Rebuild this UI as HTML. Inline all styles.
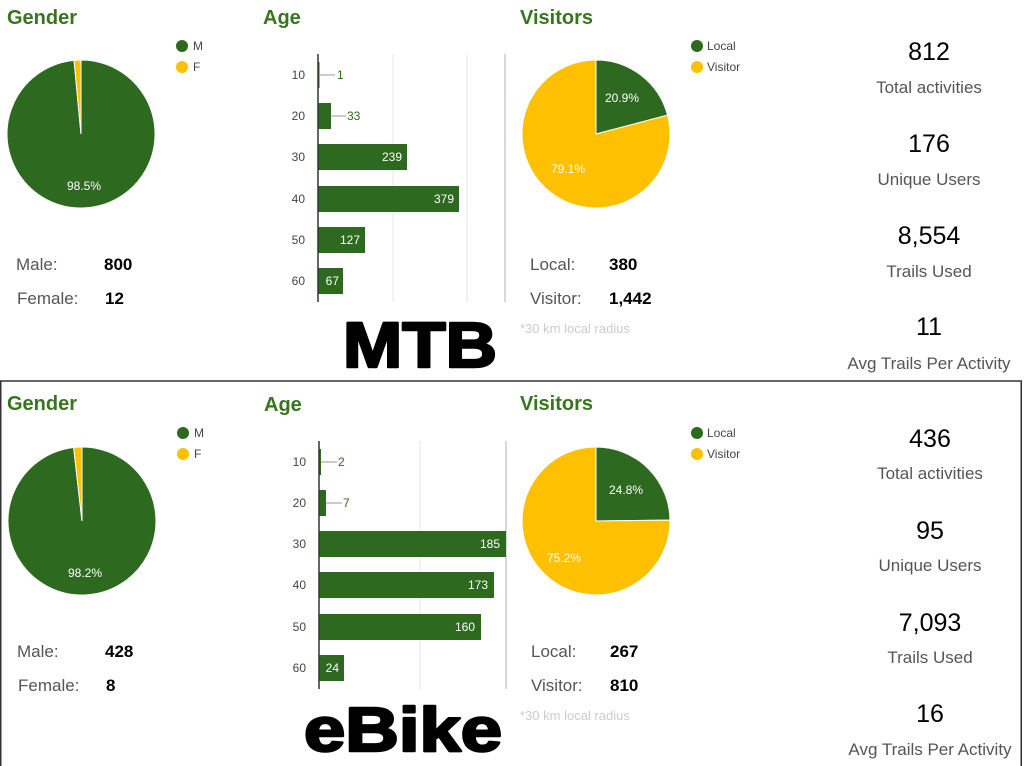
<!DOCTYPE html>
<html><head><meta charset="utf-8"><style>
html,body{margin:0;padding:0;background:#fff;width:1024px;height:766px;overflow:hidden}
svg{display:block}
text{font-family:"Liberation Sans",Arial,sans-serif}
.t{font-size:20px;font-weight:bold;fill:#38761d}
.lg{font-size:12px;fill:#444}
.ax{font-size:12px;fill:#444}
.bv{font-size:12px;fill:#fff}
.ov{font-size:12px;fill:#2d6a1f}
.pl{font-size:12px;fill:#fff}
.k{font-size:17px;fill:#555}
.v{font-size:17px;font-weight:bold;fill:#000}
.big{font-size:25px;fill:#000}
.lab{font-size:17px;fill:#555}
.note{font-size:13px;fill:#ccc}
.huge{font-weight:bold;fill:#000;stroke:#000;stroke-width:2.5px;stroke-linejoin:round}
</style></head><body>
<svg width="1024" height="766" viewBox="0 0 1024 766">
<rect x="0.75" y="381" width="1020.5" height="390" fill="none" stroke="#333" stroke-width="1.5"/>

<!-- ===== TOP PANEL ===== -->
<text class="t" x="7" y="24">Gender</text>
<path d="M81,134 L81,60 A74,74 0 1 1 74.04,60.33 Z" fill="#2d6a1f" stroke="#fff" stroke-width="1"/>
<path d="M81,134 L74.04,60.33 A74,74 0 0 1 81,60 Z" fill="#ffc000" stroke="#fff" stroke-width="1"/>
<text class="pl" x="84" y="190" text-anchor="middle">98.5%</text>
<circle cx="182" cy="46" r="6" fill="#2d6a1f"/><text class="lg" x="193" y="50">M</text>
<circle cx="182" cy="67" r="6" fill="#ffc000"/><text class="lg" x="193" y="71">F</text>
<text class="k" x="16" y="270">Male:</text><text class="v" x="104" y="270">800</text>
<text class="k" x="17" y="304">Female:</text><text class="v" x="105" y="304">12</text>

<text class="t" x="263" y="24">Age</text>
<line x1="393" y1="54" x2="393" y2="302" stroke="#e4e4e4"/>
<line x1="467" y1="54" x2="467" y2="302" stroke="#e4e4e4"/>
<line x1="505" y1="54" x2="505" y2="302" stroke="#ccc" stroke-width="1.5"/>
<rect x="318" y="62" width="1.5" height="26" fill="#2d6a1f"/>
<line x1="320" y1="75" x2="335" y2="75" stroke="#999"/><text class="ov" x="337" y="79">1</text>
<rect x="318" y="103" width="13" height="26" fill="#2d6a1f"/>
<line x1="331" y1="116" x2="346" y2="116" stroke="#999"/><text class="ov" x="347" y="120">33</text>
<rect x="318" y="144" width="89" height="26" fill="#2d6a1f"/><text class="bv" x="402" y="161" text-anchor="end">239</text>
<rect x="318" y="186" width="141" height="26" fill="#2d6a1f"/><text class="bv" x="454" y="203" text-anchor="end">379</text>
<rect x="318" y="227" width="47" height="26" fill="#2d6a1f"/><text class="bv" x="360" y="244" text-anchor="end">127</text>
<rect x="318" y="268" width="25" height="26" fill="#2d6a1f"/><text class="bv" x="339" y="285" text-anchor="end">67</text>
<line x1="318" y1="54" x2="318" y2="302" stroke="#333" stroke-width="1.5"/>
<text class="ax" x="305" y="79" text-anchor="end">10</text>
<text class="ax" x="305" y="120" text-anchor="end">20</text>
<text class="ax" x="305" y="161" text-anchor="end">30</text>
<text class="ax" x="305" y="203" text-anchor="end">40</text>
<text class="ax" x="305" y="244" text-anchor="end">50</text>
<text class="ax" x="305" y="285" text-anchor="end">60</text>
<text class="huge" x="420" y="367" text-anchor="middle" textLength="154" lengthAdjust="spacingAndGlyphs" style="font-size:64px">MTB</text>

<text class="t" x="520" y="24">Visitors</text>
<path d="M596,134 L596,60 A74,74 0 0 1 667.55,115.15 Z" fill="#2d6a1f" stroke="#fff" stroke-width="1"/>
<path d="M596,134 L667.55,115.15 A74,74 0 1 1 596,60 Z" fill="#ffc000" stroke="#fff" stroke-width="1"/>
<text class="pl" x="622" y="102" text-anchor="middle">20.9%</text>
<text class="pl" x="568" y="173" text-anchor="middle">79.1%</text>
<circle cx="697" cy="46" r="6" fill="#2d6a1f"/><text class="lg" x="707" y="50">Local</text>
<circle cx="697" cy="67" r="6" fill="#ffc000"/><text class="lg" x="707" y="71">Visitor</text>
<text class="k" x="530" y="270">Local:</text><text class="v" x="609" y="270">380</text>
<text class="k" x="530" y="304">Visitor:</text><text class="v" x="609" y="304">1,442</text>
<text class="note" x="520" y="333">*30 km local radius</text>

<text class="big" x="929" y="60" text-anchor="middle">812</text>
<text class="lab" x="929" y="93" text-anchor="middle">Total activities</text>
<text class="big" x="929" y="152" text-anchor="middle">176</text>
<text class="lab" x="929" y="185" text-anchor="middle">Unique Users</text>
<text class="big" x="929" y="244" text-anchor="middle">8,554</text>
<text class="lab" x="929" y="277" text-anchor="middle">Trails Used</text>
<text class="big" x="929" y="335" text-anchor="middle">11</text>
<text class="lab" x="929" y="369" text-anchor="middle">Avg Trails Per Activity</text>

<!-- ===== BOTTOM PANEL ===== -->
<text class="t" x="7" y="410">Gender</text>
<path d="M82,521 L82,447 A74,74 0 1 1 73.65,447.47 Z" fill="#2d6a1f" stroke="#fff" stroke-width="1"/>
<path d="M82,521 L73.65,447.47 A74,74 0 0 1 82,447 Z" fill="#ffc000" stroke="#fff" stroke-width="1"/>
<text class="pl" x="85" y="577" text-anchor="middle">98.2%</text>
<circle cx="183" cy="433" r="6" fill="#2d6a1f"/><text class="lg" x="194" y="437">M</text>
<circle cx="183" cy="454" r="6" fill="#ffc000"/><text class="lg" x="194" y="458">F</text>
<text class="k" x="17" y="657">Male:</text><text class="v" x="105" y="657">428</text>
<text class="k" x="18" y="691">Female:</text><text class="v" x="106" y="691">8</text>

<text class="t" x="264" y="411">Age</text>
<line x1="420" y1="441" x2="420" y2="689" stroke="#e4e4e4"/>
<line x1="506" y1="441" x2="506" y2="689" stroke="#ccc" stroke-width="1.5"/>
<rect x="319" y="449" width="2" height="26" fill="#2d6a1f"/>
<line x1="321" y1="462" x2="337" y2="462" stroke="#999"/><text class="ov" x="338" y="466">2</text>
<rect x="319" y="490" width="7" height="26" fill="#2d6a1f"/>
<line x1="326" y1="503" x2="342" y2="503" stroke="#999"/><text class="ov" x="343" y="507">7</text>
<rect x="319" y="531" width="187" height="26" fill="#2d6a1f"/><text class="bv" x="500" y="548" text-anchor="end">185</text>
<rect x="319" y="572" width="175" height="26" fill="#2d6a1f"/><text class="bv" x="488" y="589" text-anchor="end">173</text>
<rect x="319" y="614" width="162" height="26" fill="#2d6a1f"/><text class="bv" x="475" y="631" text-anchor="end">160</text>
<rect x="319" y="655" width="25" height="26" fill="#2d6a1f"/><text class="bv" x="339" y="672" text-anchor="end">24</text>
<line x1="319" y1="441" x2="319" y2="689" stroke="#333" stroke-width="1.5"/>
<text class="ax" x="306" y="466" text-anchor="end">10</text>
<text class="ax" x="306" y="507" text-anchor="end">20</text>
<text class="ax" x="306" y="548" text-anchor="end">30</text>
<text class="ax" x="306" y="589" text-anchor="end">40</text>
<text class="ax" x="306" y="631" text-anchor="end">50</text>
<text class="ax" x="306" y="672" text-anchor="end">60</text>
<text class="huge" x="403" y="751" text-anchor="middle" textLength="198" lengthAdjust="spacingAndGlyphs" style="font-size:62px">eBike</text>

<text class="t" x="520" y="410">Visitors</text>
<path d="M596,521 L596,447 A74,74 0 0 1 670,520.07 Z" fill="#2d6a1f" stroke="#fff" stroke-width="1"/>
<path d="M596,521 L670,520.07 A74,74 0 1 1 596,447 Z" fill="#ffc000" stroke="#fff" stroke-width="1"/>
<text class="pl" x="626" y="494" text-anchor="middle">24.8%</text>
<text class="pl" x="564" y="562" text-anchor="middle">75.2%</text>
<circle cx="697" cy="433" r="6" fill="#2d6a1f"/><text class="lg" x="707" y="437">Local</text>
<circle cx="697" cy="454" r="6" fill="#ffc000"/><text class="lg" x="707" y="458">Visitor</text>
<text class="k" x="531" y="657">Local:</text><text class="v" x="610" y="657">267</text>
<text class="k" x="531" y="691">Visitor:</text><text class="v" x="610" y="691">810</text>
<text class="note" x="520" y="720">*30 km local radius</text>

<text class="big" x="930" y="447" text-anchor="middle">436</text>
<text class="lab" x="930" y="479" text-anchor="middle">Total activities</text>
<text class="big" x="930" y="539" text-anchor="middle">95</text>
<text class="lab" x="930" y="571" text-anchor="middle">Unique Users</text>
<text class="big" x="930" y="631" text-anchor="middle">7,093</text>
<text class="lab" x="930" y="663" text-anchor="middle">Trails Used</text>
<text class="big" x="930" y="722" text-anchor="middle">16</text>
<text class="lab" x="930" y="755" text-anchor="middle">Avg Trails Per Activity</text>
</svg>
</body></html>
